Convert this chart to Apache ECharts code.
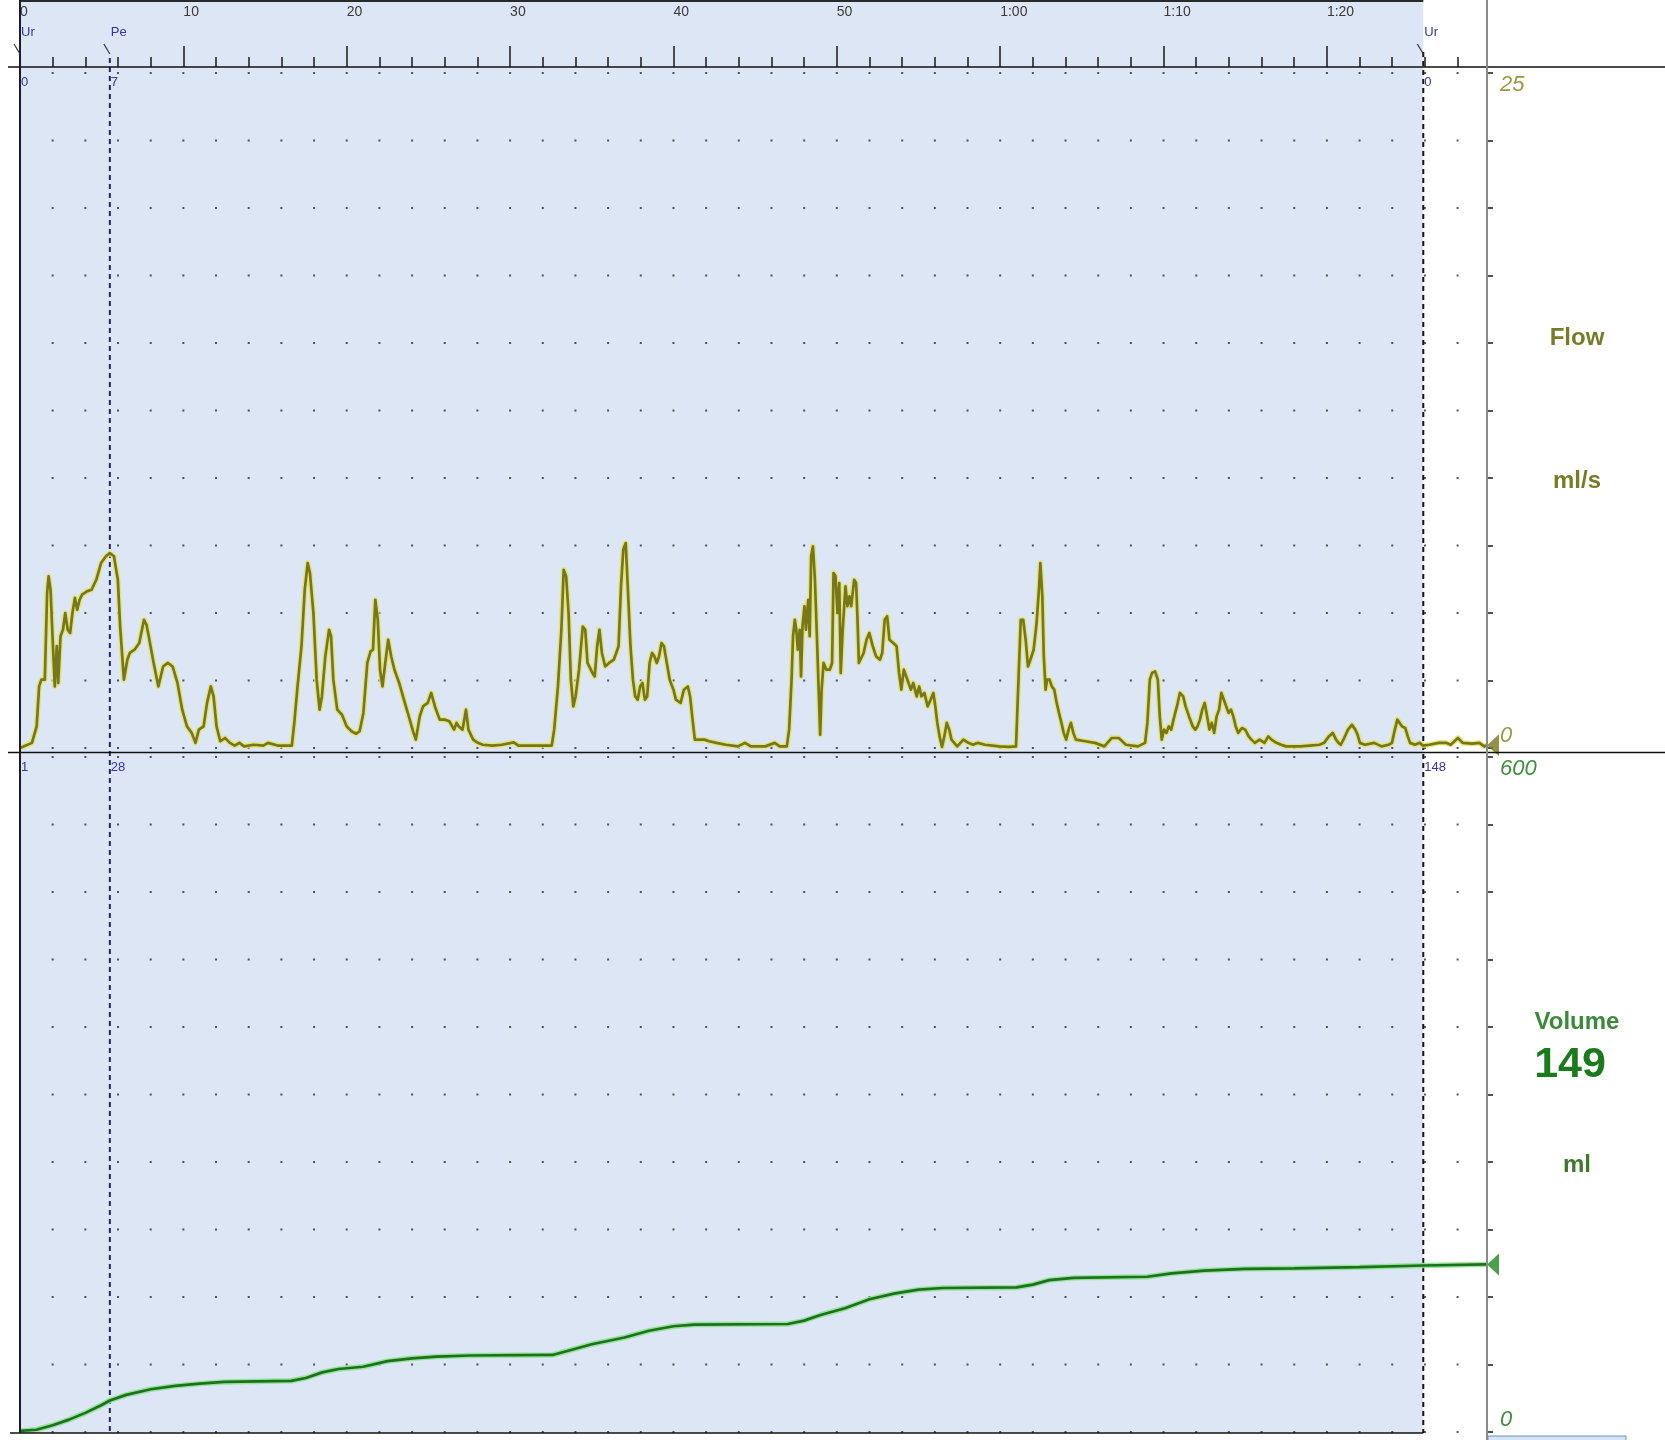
<!DOCTYPE html>
<html>
<head>
<meta charset="utf-8">
<script src="https://cdn.jsdelivr.net/npm/echarts@6/dist/echarts.min.js"></script>
<style>
  html, body { margin: 0; padding: 0; background: #ffffff; }
  #chart { width: 1665px; height: 1440px; }
</style>
</head>
<body>
<div id="chart"></div>
<script>
// Uroflowmetry record: flow rate (ml/s) and voided volume (ml) against time (s)

// [time s, flow ml/s]
const flowSamples = [
  [0,0],[0.73,0.19],[1.02,0.8],[1.17,2.28],[1.31,2.53],[1.52,2.53],[1.66,5.74],[1.75,6.36],[1.87,5.86],[1.99,4.14],
  [2.13,2.28],[2.25,3.77],[2.34,2.41],[2.48,4.14],[2.63,4.38],[2.77,5.0],[2.92,4.38],[3.07,4.26],[3.21,5.0],[3.36,5.56],
  [3.5,5.12],[3.65,5.49],[3.8,5.68],[4.09,5.8],[4.38,5.86],[4.67,6.23],[4.96,6.85],[5.26,7.1],[5.5,7.22],[5.75,7.1],
  [5.99,6.23],[6.13,4.5],[6.36,2.53],[6.57,3.27],[6.72,3.52],[7.01,3.64],[7.3,3.89],[7.59,4.75],[7.74,4.57],[7.88,4.14],
  [8.18,3.15],[8.47,2.28],[8.76,3.02],[9.05,3.15],[9.34,3.02],[9.64,2.41],[9.93,1.42],[10.22,0.8],[10.51,0.56],[10.74,0.19],
  [10.95,0.68],[11.24,0.8],[11.45,1.67],[11.68,2.28],[11.85,1.91],[12.03,0.8],[12.26,0.25],[12.55,0.37],[12.85,0.19],[13.14,0.09],
  [13.43,0.19],[13.72,0.06],[14.31,0.12],[14.89,0.09],[15.18,0.19],[15.77,0.09],[16.64,0.09],[16.79,0.93],[16.99,2.28],[17.23,3.77],
  [17.43,5.86],[17.61,6.85],[17.75,6.48],[17.96,5.0],[18.16,2.53],[18.34,1.42],[18.48,1.91],[18.69,3.4],[18.92,4.38],[19.04,4.14],
  [19.18,2.53],[19.42,1.42],[19.71,1.23],[20.0,0.8],[20.29,0.62],[20.58,0.53],[20.79,0.62],[21.02,1.3],[21.26,3.15],[21.46,3.58],
  [21.61,3.64],[21.75,5.49],[21.9,4.75],[22.04,2.9],[22.19,2.28],[22.36,3.15],[22.54,4.01],[22.72,3.4],[22.92,2.9],[23.21,2.41],
  [23.5,1.79],[23.8,1.17],[24.09,0.56],[24.23,0.31],[24.47,1.17],[24.67,1.54],[24.96,1.67],[25.17,2.04],[25.4,1.54],[25.69,1.05],
  [25.99,1.05],[26.28,0.99],[26.57,0.68],[26.72,0.93],[26.86,0.8],[27.09,0.68],[27.3,1.42],[27.45,0.68],[27.74,0.31],[28.03,0.19],
  [28.32,0.12],[28.91,0.09],[29.49,0.12],[30.22,0.21],[30.51,0.09],[31.24,0.09],[32.55,0.09],[32.7,0.68],[32.93,2.28],[33.14,4.38],
  [33.28,6.6],[33.43,6.36],[33.58,5.0],[33.72,2.53],[33.87,1.54],[34.01,1.91],[34.22,2.9],[34.45,4.5],[34.6,4.38],[34.74,3.15],
  [35.04,2.78],[35.18,2.65],[35.33,3.77],[35.47,4.38],[35.62,3.52],[35.82,3.02],[36.06,3.15],[36.35,3.27],[36.64,3.77],[36.79,5.99],
  [36.93,7.35],[37.08,7.59],[37.23,5.62],[37.37,3.77],[37.52,2.53],[37.66,1.91],[37.81,1.79],[37.96,2.28],[38.1,2.41],[38.25,1.79],
  [38.39,1.91],[38.54,3.15],[38.69,3.52],[38.83,3.4],[38.98,3.15],[39.12,3.4],[39.27,3.89],[39.42,3.77],[39.56,3.27],[39.77,2.53],
  [40.0,2.16],[40.15,1.79],[40.44,1.67],[40.64,2.16],[40.88,2.28],[41.02,1.91],[41.17,1.05],[41.31,0.31],[41.9,0.31],[42.19,0.25],
  [42.63,0.19],[43.21,0.12],[43.94,0.06],[44.38,0.19],[44.74,0.06],[45.62,0.06],[46.2,0.19],[46.5,0.06],[46.94,0.06],[47.08,0.68],
  [47.23,2.53],[47.32,4.14],[47.43,4.75],[47.52,4.38],[47.61,3.64],[47.73,4.38],[47.81,2.65],[47.9,4.5],[48.02,5.25],[48.11,4.38],
  [48.25,5.49],[48.34,4.14],[48.43,7.1],[48.54,7.47],[48.66,6.23],[48.78,4.14],[48.89,2.16],[48.98,0.49],[49.07,2.16],[49.19,3.15],
  [49.36,2.9],[49.57,2.9],[49.71,3.15],[49.8,6.48],[49.92,6.36],[50.04,5.0],[50.15,6.11],[50.24,2.78],[50.36,4.38],[50.53,5.99],
  [50.65,5.25],[50.77,5.62],[50.88,5.25],[51.06,6.23],[51.18,6.11],[51.26,4.88],[51.35,3.15],[51.47,3.15],[51.64,3.52],[51.82,4.01],
  [51.99,4.26],[52.2,3.77],[52.4,3.4],[52.64,3.27],[52.78,3.52],[52.93,4.75],[53.08,4.88],[53.22,4.01],[53.46,3.89],[53.66,3.77],
  [53.81,2.78],[53.95,2.16],[54.1,2.9],[54.25,2.65],[54.39,2.41],[54.54,2.16],[54.68,2.41],[54.89,1.91],[55.04,2.28],[55.18,1.91],
  [55.36,2.04],[55.56,1.54],[55.74,1.79],[55.91,2.04],[56.03,1.54],[56.15,0.93],[56.29,0.43],[56.44,0.04],[56.58,0.43],[56.73,0.93],
  [56.88,0.68],[57.02,0.31],[57.37,0.06],[57.75,0.31],[58.05,0.19],[58.34,0.12],[58.63,0.19],[59.07,0.12],[59.51,0.09],[59.95,0.06],
  [60.53,0.04],[60.97,0.06],[61.12,2.53],[61.26,4.75],[61.41,4.75],[61.56,4.01],[61.7,3.02],[61.85,3.27],[62.05,3.64],[62.23,4.63],
  [62.37,5.86],[62.46,6.85],[62.58,5.62],[62.67,3.4],[62.78,2.16],[62.87,2.53],[63.02,2.53],[63.16,2.28],[63.31,2.16],[63.46,1.67],
  [63.6,1.3],[63.75,0.93],[63.89,0.56],[64.04,0.31],[64.19,0.68],[64.33,0.93],[64.48,0.56],[64.63,0.31],[65.21,0.25],[65.8,0.19],
  [66.38,0.06],[66.82,0.37],[67.26,0.37],[67.7,0.12],[68.43,0.06],[68.87,0.19],[69.01,0.93],[69.16,2.53],[69.3,2.78],[69.48,2.84],
  [69.65,2.53],[69.77,1.17],[69.89,0.31],[70.03,0.68],[70.18,0.56],[70.32,0.8],[70.47,0.68],[70.61,1.05],[70.82,1.54],[71.0,2.04],
  [71.2,1.91],[71.35,1.54],[71.56,1.17],[71.79,0.8],[71.94,0.68],[72.08,0.8],[72.23,1.05],[72.37,1.42],[72.52,1.67],[72.67,1.17],
  [72.81,0.68],[72.95,0.93],[73.1,0.56],[73.25,1.17],[73.4,1.42],[73.54,2.04],[73.69,1.79],[73.84,1.54],[73.98,1.3],[74.13,1.42],
  [74.27,1.17],[74.42,0.8],[74.57,0.56],[74.8,0.74],[75.0,0.68],[75.21,0.43],[75.38,0.31],[75.59,0.19],[75.88,0.31],[76.18,0.19],
  [76.41,0.43],[76.61,0.31],[76.91,0.19],[77.2,0.12],[77.49,0.06],[78.37,0.06],[78.95,0.09],[79.54,0.12],[79.83,0.19],[80.12,0.43],
  [80.36,0.56],[80.56,0.31],[80.71,0.19],[80.85,0.12],[81.06,0.37],[81.29,0.68],[81.53,0.86],[81.74,0.68],[81.88,0.49],[82.02,0.19],
  [82.32,0.12],[82.9,0.19],[83.34,0.06],[83.78,0.12],[83.98,0.19],[84.16,0.68],[84.31,1.05],[84.45,0.93],[84.6,0.8],[84.8,0.74],
  [84.95,0.43],[85.09,0.19],[85.39,0.12],[85.68,0.19],[85.88,0.09],[86.26,0.12],[86.85,0.19],[87.29,0.19],[87.58,0.12],[88.02,0.37],
  [88.31,0.19],[88.89,0.16],[89.33,0.19],[89.63,0.06],[89.8,0.1]
];

// [time s, voided volume ml]
const volumeSamples = [
  [0,1],[1,2],[2,6],[3,11],[4,17],[5,24],[5.5,28],[6.5,33],[8,38],[9.5,41],
  [11,43],[12.5,44.5],[16.6,45.5],[17.5,48],[18.5,53],[19.5,56],[21,58],[22.5,63],[24,65.5],[25.5,67],
  [27.5,68],[32.6,68.5],[33.5,72],[35,78],[37,84],[38.5,90],[40,94],[41.3,95.5],[47,96],[48,99],
  [49,104],[50.5,110],[52,118],[53.5,123],[55,126.5],[56.5,128],[61,128.5],[62,131],[63,135],[64.5,137],
  [69,138],[70.5,141],[72.5,143.5],[75,145],[78,145.5],[82,146.5],[85.9,148],[89.8,149]
];

// event markers along the time axis
const eventNames = ['Ur', 'Pe', 'Ur'];
const eventTimes = [0, 5.5, 85.9];

// axis ranges
const T_MAX = 89.8, T_STEP = 10, T_MINOR = 2;
const FLOW_MAX = 25, FLOW_STEP = 2.5;
const VOL_MAX = 600, VOL_STEP = 60;

const FLOW_COLOR = '#77771a', FLOW_HALO = 'rgba(228,228,100,0.8)';
const VOL_COLOR = '#1c721c', VOL_HALO = 'rgba(140,225,140,0.85)';
const MARK_COLOR = '#3535a5';
const FONT = 'Arial, "Liberation Sans", sans-serif';

function timeLabel(v) {
  if (Math.abs(v % T_STEP) > 1e-6) return '';
  if (v >= 60) return Math.floor(v / 60) + ':' + String(v % 60).padStart(2, '0');
  return String(v);
}

function valueAt(samples, t) {
  for (let i = 1; i < samples.length; i++) {
    if (samples[i][0] >= t) {
      const [t0, v0] = samples[i - 1], [t1, v1] = samples[i];
      return v0 + (v1 - v0) * (t - t0) / (t1 - t0);
    }
  }
  return samples[samples.length - 1][1];
}

// dotted grid at every minor time step and every value step
function gridDots(maxV, stepV) {
  const pts = [];
  for (let t = T_MINOR; t < T_MAX; t += T_MINOR) {
    for (let v = 0; v <= maxV + 1e-9; v += stepV) pts.push([t, v]);
  }
  return pts;
}

const chart = echarts.init(document.getElementById('chart'));

const grids = [
  { left: 20, right: 178, top: 73, height: 675 },
  { left: 20, right: 178, top: 757, height: 675 }
];

const endTriangle = 'path://M0,10 L12,0 L12,20 Z';

const option = {
  animation: false,
  backgroundColor: '#ffffff',
  grid: grids,
  xAxis: [
    {
      gridIndex: 0, type: 'value', position: 'top', offset: 6,
      min: 0, max: T_MAX, interval: T_STEP,
      axisLine: { show: false, onZero: false },
      axisTick: { show: true, length: 21, lineStyle: { color: '#1a1a1a', width: 1.5 } },
      minorTick: { show: true, splitNumber: T_STEP / T_MINOR, length: 10, lineStyle: { color: '#1a1a1a', width: 1.5 } },
      splitLine: { show: false },
      minorSplitLine: { show: false },
      axisLabel: {
        show: true, align: 'left', margin: 48, color: '#3a3a3a', fontSize: 14, fontFamily: FONT,
        showMinLabel: true, showMaxLabel: true, formatter: timeLabel
      }
    },
    {
      gridIndex: 1, type: 'value', min: 0, max: T_MAX, interval: T_STEP,
      axisLine: { show: false, onZero: false }, axisTick: { show: false }, axisLabel: { show: false }, splitLine: { show: false }
    }
  ],
  yAxis: [
    {
      gridIndex: 0, type: 'value', position: 'right', min: 0, max: FLOW_MAX, interval: FLOW_STEP,
      axisLine: { show: false, onZero: false },
      axisTick: { show: true, inside: false, length: 6, lineStyle: { color: '#1a1a1a', width: 1.5 } },
      axisLabel: { show: false }, splitLine: { show: false }
    },
    {
      gridIndex: 1, type: 'value', position: 'right', min: 0, max: VOL_MAX, interval: VOL_STEP,
      axisLine: { show: false, onZero: false },
      axisTick: { show: true, inside: false, length: 6, lineStyle: { color: '#1a1a1a', width: 1.5 } },
      axisLabel: { show: false }, splitLine: { show: false }
    }
  ],
  series: [
    {
      type: 'scatter', xAxisIndex: 0, yAxisIndex: 0, silent: true, symbol: 'rect', symbolSize: 2,
      itemStyle: { color: '#2a2a2a' }, data: gridDots(FLOW_MAX, FLOW_STEP), z: 1
    },
    {
      type: 'scatter', xAxisIndex: 1, yAxisIndex: 1, silent: true, symbol: 'rect', symbolSize: 2,
      itemStyle: { color: '#2a2a2a' }, data: gridDots(VOL_MAX, VOL_STEP), z: 1
    },
    {
      name: 'Flow halo', type: 'line', xAxisIndex: 0, yAxisIndex: 0, showSymbol: false, silent: true,
      lineStyle: { color: FLOW_HALO, width: 5.5, join: 'round' }, data: flowSamples, z: 2
    },
    {
      name: 'Flow', type: 'line', xAxisIndex: 0, yAxisIndex: 0, showSymbol: false,
      lineStyle: { color: FLOW_COLOR, width: 2.7, join: 'round' }, data: flowSamples, z: 3
    },
    {
      name: 'Volume halo', type: 'line', xAxisIndex: 1, yAxisIndex: 1, showSymbol: false, silent: true,
      lineStyle: { color: VOL_HALO, width: 5.5 }, data: volumeSamples, z: 2
    },
    {
      name: 'Volume', type: 'line', xAxisIndex: 1, yAxisIndex: 1, showSymbol: false,
      lineStyle: { color: VOL_COLOR, width: 2.7 }, data: volumeSamples, z: 3
    },
    {
      type: 'scatter', xAxisIndex: 0, yAxisIndex: 0, silent: true, clip: false,
      symbol: endTriangle, symbolSize: [12, 22], symbolOffset: [6, 0],
      itemStyle: { color: FLOW_COLOR }, data: [flowSamples[flowSamples.length - 1]], z: 6
    },
    {
      type: 'scatter', xAxisIndex: 1, yAxisIndex: 1, silent: true, clip: false,
      symbol: endTriangle, symbolSize: [12, 22], symbolOffset: [6, 0],
      itemStyle: { color: '#1e8a1e' }, data: [volumeSamples[volumeSamples.length - 1]], z: 6
    }
  ]
};

chart.setOption(option);

// overlay: shaded voiding interval, panel frames, event markers and side captions
const xPx = t => chart.convertToPixel({ xAxisIndex: 0 }, t);
const yFlow = v => chart.convertToPixel({ yAxisIndex: 0 }, v);
const yVol = v => chart.convertToPixel({ yAxisIndex: 1 }, v);

const W = 1665;
const xStart = xPx(eventTimes[0]);
const xEnd = xPx(eventTimes[eventTimes.length - 1]);
const xRight = xPx(T_MAX);
const yTopAxis = yFlow(FLOW_MAX) - 6;
const ySplit = (yFlow(0) + yVol(VOL_MAX)) / 2;
const yBottom = yVol(0) + 1;

function line(x1, y1, x2, y2, stroke, lineWidth, z, dash) {
  return {
    type: 'line', z: z, silent: true,
    shape: { x1, y1, x2, y2 },
    style: { stroke, lineWidth, lineDash: dash || null }
  };
}
function text(str, x, y, font, fill, align, valign, z) {
  return {
    type: 'text', x, y, z: z || 20, silent: true,
    style: {
      text: str, font, fill,
      align: align, verticalAlign: valign,
      textAlign: align, textVerticalAlign: valign
    }
  };
}

const g = [];
// shaded voiding interval
g.push({
  type: 'rect', z: -10, silent: true,
  shape: { x: xStart, y: 0, width: xEnd - xStart, height: yBottom },
  style: { fill: '#dde6f5' }
});
// frame lines
g.push(line(xStart, 1, xEnd, 1, '#2a2a2a', 2, 10));
g.push(line(8, yTopAxis, W, yTopAxis, '#111111', 1.5, 10));
g.push(line(8, ySplit, W, ySplit, '#111111', 1.5, 10));
g.push(line(10, yBottom, xEnd, yBottom, '#111111', 1.5, 10));
g.push(line(xStart, 0, xStart, yBottom, '#1a1a2a', 2, 10));
g.push(line(xRight, 0, xRight, 1440, '#8a8a8a', 2, 10));
// small scroll strip under the scale
g.push({
  type: 'rect', z: 5, silent: true,
  shape: { x: xRight + 1, y: 1436, width: 138, height: 6 },
  style: { fill: '#d3e5f4', stroke: '#6f93b3', lineWidth: 1 }
});

// event markers
eventTimes.forEach((t, i) => {
  const x = xPx(t);
  g.push(text(eventNames[i], x + 1, 32, '13px ' + FONT, MARK_COLOR, 'left', 'middle'));
  g.push(line(x - 6, 44, x, 54, '#333344', 1.2, 10));
  if (i > 0) {
    const isEnd = i === eventTimes.length - 1;
    g.push(line(x, isEnd ? 52 : 58, x, yBottom, isEnd ? '#15151f' : '#23236e', 2, 1, [5, 4]));
  }
  g.push(text(String(Math.round(valueAt(flowSamples, t))), x + 1, 82, '13px ' + FONT, MARK_COLOR, 'left', 'middle'));
  g.push(text(String(Math.round(valueAt(volumeSamples, t))), x + 1, 767, '13px ' + FONT, MARK_COLOR, 'left', 'middle'));
});

// scale end values on the right axis
const scaleFont = 'italic 22px ' + FONT;
g.push(text(String(FLOW_MAX), xRight + 13, yFlow(FLOW_MAX) + 1, scaleFont, '#9a9a45', 'left', 'top'));
g.push(text('0', xRight + 13, yFlow(0) - 1, scaleFont, '#9a9a45', 'left', 'bottom'));
g.push(text(String(VOL_MAX), xRight + 13, yVol(VOL_MAX) + 1, scaleFont, '#3f8f3f', 'left', 'top'));
g.push(text('0', xRight + 13, yVol(0) - 1, scaleFont, '#3f8f3f', 'left', 'bottom'));

// side captions
const capX = 1577;
g.push(text('Flow', capX, 338, 'bold 24px ' + FONT, '#7a7a28', 'center', 'middle'));
g.push(text('ml/s', capX, 481, 'bold 24px ' + FONT, '#7a7a28', 'center', 'middle'));
g.push(text('Volume', capX, 1022, 'bold 24px ' + FONT, '#3a8a3a', 'center', 'middle'));
g.push(text(String(Math.round(volumeSamples[volumeSamples.length - 1][1])), 1570, 1065, 'bold 43px ' + FONT, '#1b7a1b', 'center', 'middle'));
g.push(text('ml', capX, 1165, 'bold 24px ' + FONT, '#3f7a2c', 'center', 'middle'));

chart.setOption({ graphic: g });
</script>
</body>
</html>
